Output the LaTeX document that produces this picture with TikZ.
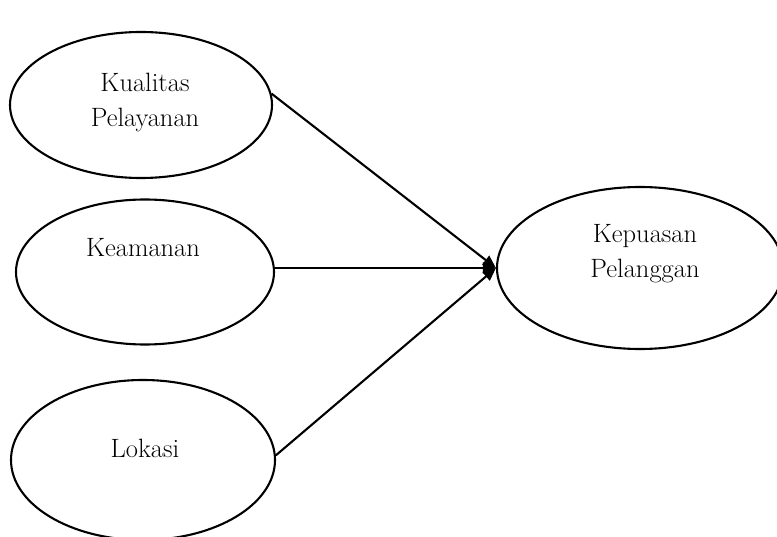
\documentclass[tikz,border=0pt]{standalone}
\usetikzlibrary{shapes.geometric,arrows.meta}
\begin{document}
\begin{tikzpicture}[x=1pt,y=-1pt,
  oval/.style={draw=black,ellipse,line width=2.1pt,inner sep=0pt},
  lbl/.style={align=center,inner sep=0pt,font=\fontsize{26.5}{35}\selectfont},
  conn/.style={line width=2.1pt,-{Triangle[length=13pt,width=11pt]}}]
\useasboundingbox (0,0) rectangle (777,537);
\node[oval,minimum width=262pt,minimum height=146pt] (k1) at (141,105) {};
\node[oval,minimum width=258pt,minimum height=145pt] (k2) at (145,272) {};
\node[oval,minimum width=264pt,minimum height=160pt] (k3) at (143,460) {};
\node[oval,minimum width=286pt,minimum height=162pt] (k4) at (640,268) {};
\node[lbl] (t1) at (145,102.5) {Kualitas\\Pelayanan};
\node[lbl,anchor=base] (t2) at (143,256.7) {Keamanan};
\node[lbl,anchor=base] (t3) at (145,457.7) {Lokasi};
\node[lbl] (t4) at (645,254) {Kepuasan\\Pelanggan};
\draw[conn] (k1.5) -- (k4.west);
\draw[conn] (k2.east |- k4.west) -- (k4.west);
\draw[conn] (k3.2) -- (k4.west);
\end{tikzpicture}
\end{document}
